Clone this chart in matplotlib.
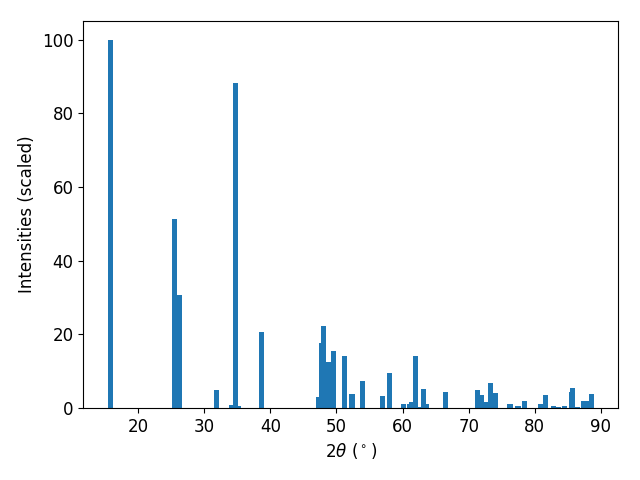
import matplotlib
matplotlib.use("Agg")
import matplotlib.pyplot as plt

# peak positions (2theta, degrees) and scaled intensities
two_theta = [15.77, 25.49, 26.25, 31.85, 34.1, 34.72, 35.2, 38.67,
             47.3, 47.75, 48.05, 48.73, 49.56, 51.2, 52.36, 53.95,
             56.97, 58.03, 60.15, 61.05, 61.35, 61.96, 62.5, 63.17, 63.55,
             66.5, 71.33, 71.94, 72.5, 73.3, 74.05,
             76.25, 77.45, 78.5, 80.85, 81.6, 82.8, 83.5, 84.5,
             85.55, 85.7, 86.5, 87.45, 88.0, 88.55]
intensity = [100.0, 51.2, 30.8, 5.0, 0.7, 88.3, 0.5, 20.5,
             2.9, 17.7, 22.2, 12.5, 15.5, 14.2, 3.8, 7.4,
             3.3, 9.5, 1.0, 1.0, 1.5, 14.2, 0.3, 5.2, 1.2,
             4.4, 4.9, 3.5, 1.6, 6.8, 4.1,
             1.1, 0.6, 1.9, 1.1, 3.6, 0.6, 0.2, 0.5,
             4.4, 5.5, 0.3, 1.9, 1.9, 3.8]

plt.figure(figsize=(6.4, 4.8), dpi=100)
plt.bar(two_theta, intensity, width=0.8, color="#1f77b4")
plt.xlabel(r"$2\theta$ ($^\circ$)", fontsize=12)
plt.ylabel("Intensities (scaled)", fontsize=12)
plt.xticks(fontsize=12)
plt.yticks(fontsize=12)
plt.subplots_adjust(left=0.130, right=0.966, top=0.956, bottom=0.150)
plt.savefig("out.png")
